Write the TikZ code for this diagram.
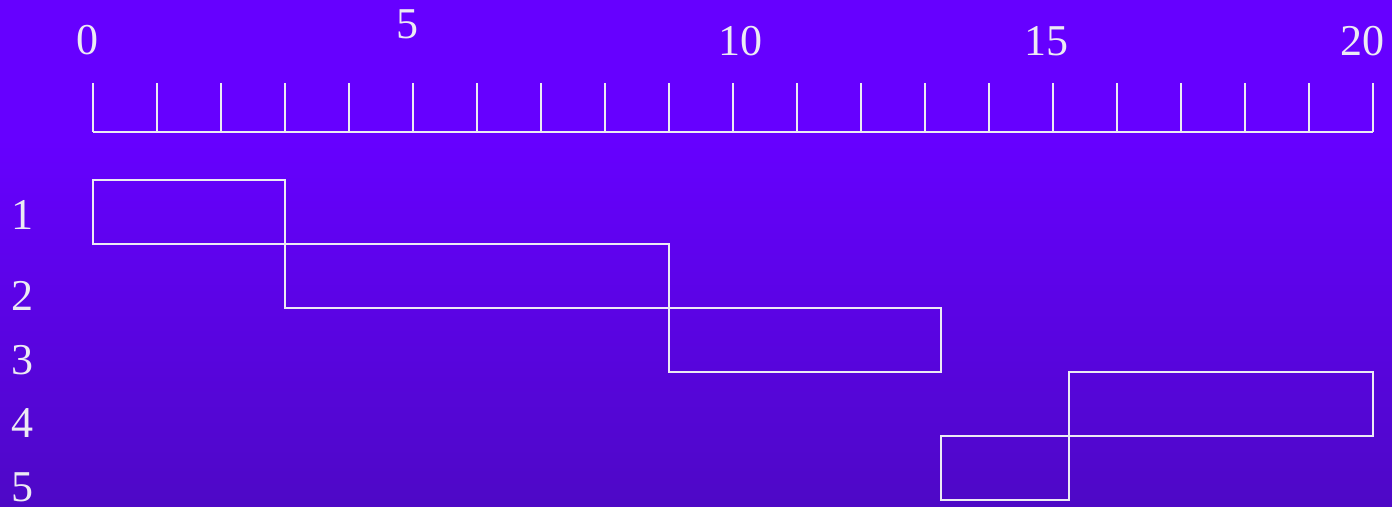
\documentclass[tikz,border=0pt]{standalone}
\usepackage{fontspec}
\setmainfont{Liberation Serif}
\definecolor{bgtop}{RGB}{102,0,255}
\definecolor{bgbot}{RGB}{78,8,198}
\definecolor{ln}{RGB}{236,234,244}
\begin{document}
\begin{tikzpicture}[x=1pt,y=-1pt,
  lbl/.style={text=ln,font=\fontsize{44}{48}\selectfont,inner sep=0pt},
  bar/.style={draw=ln,line width=2pt,anchor=north west,inner sep=0pt,outer sep=0pt},
  rul/.style={draw=ln,line width=2pt}]
\useasboundingbox (0,0) rectangle (1392,506);
\fill[bgtop] (0,0) rectangle (1392,140);
\shade[top color=bgtop,bottom color=bgbot] (0,139.5) rectangle (1392,506);
% ruler
\coordinate (r0) at (92.5,131.5);
\coordinate (r20) at (1372.5,131.5);
\draw[rul] (r0) -- (r20);
\foreach \i in {0,...,20}{
  \draw[rul] (92.5+64*\i,83) -- (92.5+64*\i,131.5);
}
\node[lbl] (n0) at (87,40) {0};
\node[lbl] (n5) at (407,24) {5};
\node[lbl] (n10) at (740,41) {10};
\node[lbl] (n15) at (1046,41) {15};
\node[lbl] (n20) at (1362,41) {20};
% row labels
\node[lbl] (l1) at (22,215) {1};
\node[lbl] (l2) at (23,296) {2};
\node[lbl] (l3) at (22,360) {3};
\node[lbl] (l4) at (22,423) {4};
\node[lbl] (l5) at (22,487) {5};
% bars
\node[bar,minimum width=192pt,minimum height=64pt] (b1) at (92.5,179.5) {};
\node[bar,minimum width=384pt,minimum height=64pt] (b2) at (284.5,243.5) {};
\node[bar,minimum width=272pt,minimum height=64pt] (b3) at (668.5,307.5) {};
\node[bar,minimum width=303.5pt,minimum height=64pt] (b4) at (1069,371.5) {};
\node[bar,minimum width=128.5pt,minimum height=64pt] (b5) at (940.5,435.5) {};
\end{tikzpicture}
\end{document}
